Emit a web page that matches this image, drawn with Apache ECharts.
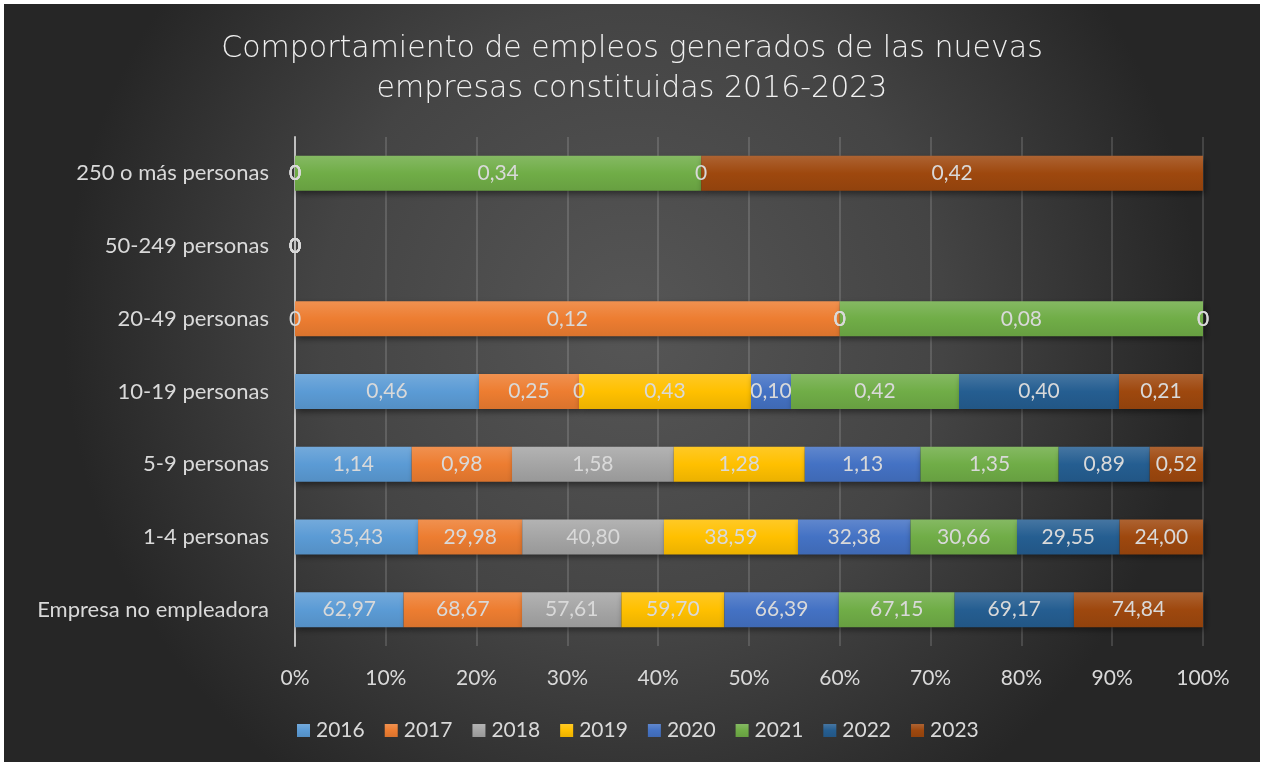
<!DOCTYPE html>
<html>
<head>
<meta charset="utf-8">
<script src="https://cdn.jsdelivr.net/npm/echarts@6/dist/echarts.min.js"></script>
<style>
  html, body { margin: 0; padding: 0; background: #ffffff; }
  #chart { position: absolute; left: 4px; top: 4px; width: 1256px; height: 758px; }
</style>
</head>
<body>
<div id="chart"></div>
<script>
// ---- Data ----
const categories = ['Empresa no empleadora', '1-4 personas', '5-9 personas', '10-19 personas', '20-49 personas', '50-249 personas', '250 o más personas'];
const years = ['2016', '2017', '2018', '2019', '2020', '2021', '2022', '2023'];
const v2016 = [62.97, 35.43, 1.14, 0.46, 0, 0, 0];
const v2017 = [68.67, 29.98, 0.98, 0.25, 0.12, 0, 0];
const v2018 = [57.61, 40.80, 1.58, 0, 0, 0, 0];
const v2019 = [59.70, 38.59, 1.28, 0.43, 0, 0, 0];
const v2020 = [66.39, 32.38, 1.13, 0.10, 0, 0, 0];
const v2021 = [67.15, 30.66, 1.35, 0.42, 0.08, 0, 0.34];
const v2022 = [69.17, 29.55, 0.89, 0.40, 0, 0, 0];
const v2023 = [74.84, 24.00, 0.52, 0.21, 0, 0, 0.42];
const xTickLabels = ['0%', '10%', '20%', '30%', '40%', '50%', '60%', '70%', '80%', '90%', '100%'];
const titleText = 'Comportamiento de empleos generados de las nuevas\nempresas constituidas 2016-2023';

const seriesValues = [v2016, v2017, v2018, v2019, v2020, v2021, v2022, v2023];
const colors = ['#5B9BD5', '#ED7D31', '#A5A5A5', '#FFC000', '#4472C4', '#70AD47', '#255E91', '#9E480E'];

function shade(hex, f) {
  const n = parseInt(hex.slice(1), 16);
  let r = (n >> 16) & 255, g = (n >> 8) & 255, b = n & 255;
  if (f > 0) { r += (255 - r) * f; g += (255 - g) * f; b += (255 - b) * f; }
  else { r *= (1 + f); g *= (1 + f); b *= (1 + f); }
  return 'rgb(' + Math.round(r) + ',' + Math.round(g) + ',' + Math.round(b) + ')';
}

const totals = categories.map((c, i) => seriesValues.reduce((s, arr) => s + arr[i], 0));
const FONT = 'Lato';
const TXT = '#d9d9d9';

const series = years.map((y, si) => ({
  name: y,
  type: 'bar',
  stack: 'total',
  barWidth: 35,
  data: seriesValues[si].map((v, i) => ({ value: totals[i] > 0 ? v / totals[i] * 100 : 0, raw: v })),
  itemStyle: {
    color: {
      type: 'linear', x: 0, y: 0, x2: 0, y2: 1,
      colorStops: [
        { offset: 0, color: shade(colors[si], 0.15) },
        { offset: 0.5, color: colors[si] },
        { offset: 1, color: shade(colors[si], -0.08) }
      ]
    },
    shadowBlur: 6,
    shadowOffsetX: 2,
    shadowOffsetY: 3,
    shadowColor: 'rgba(0,0,0,0.45)'
  },
  label: {
    show: true,
    position: 'inside',
    color: TXT,
    fontFamily: FONT,
    fontSize: 21,
    formatter: p => p.data.raw === 0 ? '0' : p.data.raw.toFixed(2).replace('.', ',')
  },
  emphasis: { disabled: true }
}));

const chart = echarts.init(document.getElementById('chart'));
chart.setOption({
  backgroundColor: {
    type: 'radial', x: 0.5, y: 0.42, r: 0.75,
    colorStops: [
      { offset: 0, color: '#565656' },
      { offset: 0.55, color: '#444444' },
      { offset: 1, color: '#262626' }
    ]
  },
  animation: false,
  color: colors,
  title: {
    text: titleText,
    left: 'center',
    top: 20,
    textStyle: {
      fontFamily: 'DejaVu Sans',
      fontSize: 30,
      fontWeight: 200,
      color: '#f0f0f0',
      lineHeight: 40
    }
  },
  legend: {
    data: years,
    bottom: 16,
    left: 288,
    itemWidth: 13,
    itemHeight: 13,
    itemGap: 20,
    icon: 'rect',
    textStyle: { color: TXT, fontFamily: FONT, fontSize: 21, padding: [0, 0, 0, 1] }
  },
  grid: { left: 291, right: 57, top: 133, bottom: 116, containLabel: false },
  xAxis: {
    type: 'value',
    min: 0,
    max: 100,
    interval: 10,
    axisLine: { show: false },
    axisTick: { show: false },
    splitLine: { lineStyle: { color: 'rgba(255,255,255,0.14)', width: 2 } },
    axisLabel: {
      color: TXT, fontFamily: FONT, fontSize: 21, margin: 22,
      formatter: v => xTickLabels[Math.round(v / 10)]
    }
  },
  yAxis: {
    type: 'category',
    data: categories,
    axisLine: { show: true, lineStyle: { color: '#bfbfbf', width: 2 } },
    axisTick: { show: false },
    axisLabel: { color: TXT, fontFamily: FONT, fontSize: 22, margin: 26 }
  },
  series: series
});
</script>
</body>
</html>
